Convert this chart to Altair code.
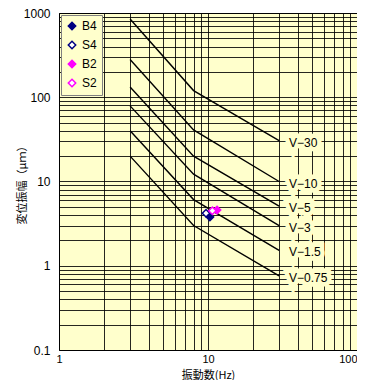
import altair as alt
import pandas as pd

# ---- data ----
curve_names = ["V−30", "V−10", "V−5", "V−3", "V−1.5", "V−0.75"]
curve_freq = [3, 8, 30]
v30 = [850, 120, 30.5]
v10 = [280, 41, 10]
v5 = [132, 20, 5.1]
v3 = [79, 12.2, 3.0]
v1_5 = [40, 6.1, 1.52]
v0_75 = [20, 3.0, 0.76]
curve_values = [v30, v10, v5, v3, v1_5, v0_75]

series = ["B4", "S4", "B2", "S2"]
pt_freq = [10.3, 9.7, 11.5, 10.7]
pt_disp = [3.8, 4.2, 4.6, 4.5]
pt_stroke = ["#000080", "#000080", "#FF00FF", "#FF00FF"]
pt_fill = ["#000080", "#FFFFFF", "#FF00FF", "#FFFFFF"]

x_grid = [1, 2, 3, 4, 5, 6, 7, 8, 9, 10, 20, 30, 40, 50, 60, 70, 80, 90, 100]
x_labels = [1, 10, 100]
y_grid = [0.1, 0.2, 0.3, 0.4, 0.5, 0.6, 0.7, 0.8, 0.9,
          1, 2, 3, 4, 5, 6, 7, 8, 9,
          10, 20, 30, 40, 50, 60, 70, 80, 90,
          100, 200, 300, 400, 500, 600, 700, 800, 900, 1000]
y_labels = [0.1, 1, 10, 100, 1000]

BG = "#FFFFCC"
FONT = "Liberation Sans"
JP = "Noto Sans CJK JP"

lines_df = pd.DataFrame(
    [{"curve": n, "f": f, "d": d}
     for n, vals in zip(curve_names, curve_values)
     for f, d in zip(curve_freq, vals)]
)
label_df = pd.DataFrame({"curve": curve_names,
                         "f": [curve_freq[-1]] * len(curve_names),
                         "d": [v[-1] for v in curve_values]})
pts_df = pd.DataFrame({"s": series, "f": pt_freq, "d": pt_disp})


def xenc():
    return alt.X("f:Q",
                 scale=alt.Scale(type="log", domain=[1, 100], nice=False),
                 axis=alt.Axis(values=x_grid,
                               labelExpr="indexof(%s, datum.value) >= 0 ? datum.label : ''" % x_labels,
                               labelAlign={"expr": "datum.value == 100 ? 'right' : 'center'"},
                               format="~g", grid=True, ticks=False, domain=False,
                               labelOverlap=False, labelFlush=False, labelBound=False,
                               labelPadding=3, labelFontSize=11, labelFont=FONT,
                               labelColor="#000",
                               title="振動数(Hz)", titleFont=JP, titleFontSize=11,
                               titleFontWeight="normal", titleX=149, titleY=25,
                               titleBaseline="middle", titleAlign="center",
                               titleColor="#000"))


def yenc():
    return alt.Y("d:Q",
                 scale=alt.Scale(type="log", domain=[0.1, 1000], nice=False),
                 axis=alt.Axis(values=y_grid,
                               labelExpr="indexof(%s, datum.value) >= 0 ? datum.label : ''" % y_labels,
                               format="~g", grid=True, ticks=False, domain=False,
                               labelOverlap=False, labelFlush=False, labelBound=False,
                               labelPadding=9, labelFontSize=12, labelFont=FONT,
                               labelColor="#000",
                               title="変位振幅（μｍ）", titleFont=JP, titleFontSize=11,
                               titleFontWeight="normal", titleX=-37, titleY=169,
                               titleBaseline="middle", titleAlign="center",
                               titleAngle=270, titleColor="#000"))


lines = alt.Chart(lines_df).mark_line(color="black", strokeWidth=1.4).encode(
    x=xenc(), y=yenc(), detail="curve:N")

halo = alt.Chart(label_df).mark_text(
    align="left", baseline="middle", dx=10, dy=2, fontSize=12, font=FONT,
    fill=BG, stroke=BG, strokeWidth=9).encode(x=xenc(), y=yenc(), text="curve:N")

labels = alt.Chart(label_df).mark_text(
    align="left", baseline="middle", dx=10, dy=2, fontSize=12, font=FONT,
    color="black").encode(x=xenc(), y=yenc(), text="curve:N")

points = alt.Chart(pts_df).mark_point(shape="diamond", size=55, filled=False,
                                      strokeWidth=1.5, opacity=1).encode(
    x=xenc(), y=yenc(),
    stroke=alt.Stroke("s:N", scale=alt.Scale(domain=series, range=pt_stroke),
                      legend=alt.Legend(title=None)),
    fill=alt.Fill("s:N", scale=alt.Scale(domain=series, range=pt_fill),
                  legend=alt.Legend(title=None)),
)

chart = alt.layer(lines, halo, labels, points).properties(
    width=298, height=337,
    autosize=alt.AutoSizeParams(type="none"),
    padding={"left": 51, "top": 5, "right": 0, "bottom": 30},
    background="white",
).configure_view(
    fill=BG, stroke="black", strokeWidth=1
).configure_axis(
    gridColor="#000000", gridOpacity=0.85, gridWidth=1
).configure_legend(
    orient="none", legendX=2, legendY=2, fillColor=BG, strokeColor="#808080",
    padding=5, labelFontSize=12, labelFont=FONT, labelColor="#000",
    symbolSize=55, symbolType="diamond", symbolStrokeWidth=1.5, rowPadding=5,
    labelOffset=4
)

chart.save("out.html", embed_options={"renderer": "svg", "actions": False})
